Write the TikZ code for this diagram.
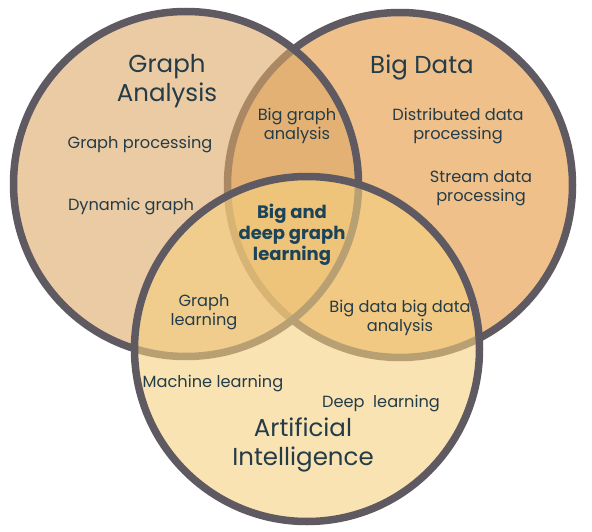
\documentclass[tikz,border=0pt]{standalone}
\usepackage{fontspec}
\setmainfont{Poppins}
\usepackage{xcolor}
\usepackage{tikz}
\usetikzlibrary{positioning}

\definecolor{gacol}{RGB}{222,168,102}
\definecolor{bdcol}{RGB}{228,150,60}
\definecolor{aicol}{RGB}{245,208,127}
\definecolor{rimcol}{RGB}{95,90,98}
\definecolor{txtcol}{RGB}{36,60,72}
\definecolor{boldcol}{RGB}{27,68,89}

\begin{document}
\begin{tikzpicture}[x=1pt, y=-1pt,
  venn/.style={circle, draw=rimcol, line width=7.5pt, fill opacity=0.6,
    inner sep=0pt, minimum size=345pt},
  ttl/.style={text=txtcol, align=center, font=\fontsize{24.5}{28.5}\selectfont},
  lbl/.style={text=txtcol, align=center, font=\fontsize{16.2}{18.5}\selectfont}]
\useasboundingbox (0,0) rectangle (592,532);
  % The three sets, bottom to top
  \node[venn, fill=bdcol] (bd) at (400,185) {};
  \node[venn, fill=gacol] (ga) at (186,184) {};
  \node[venn, fill=aicol] (ai) at (307,349) {};
  % Set titles
  \node[ttl] (gatitle) at (167,81) {Graph\\Analysis};
  \node[ttl] (bdtitle) at (422,67) {Big Data};
  \node[ttl] (aititle) at (303,445) {Artificial\\Intelligence};
  % Graph analysis topics
  \node[lbl] (gproc) at (140,145) {Graph processing};
  \node[lbl] (dyng) at (131,207) {Dynamic graph};
  % Big data topics
  \node[lbl] (distp) at (458,126) {Distributed data\\processing};
  \node[lbl] (strp) at (481,188) {Stream data\\processing};
  % Artificial intelligence topics
  \node[lbl] (mlearn) at (213,384) {Machine learning};
  \node[lbl] (dlearn) at (381,404) {Deep\ \ learning};
  % Pairwise overlaps
  \node[lbl] (bga) at (297,126) {Big graph\\analysis};
  \node[lbl] (glearn) at (204,312) {Graph\\learning};
  \node[lbl] (bdbd) at (400,318) {Big data big data\\analysis};
  % Centre of all three
  \node[text=boldcol, align=center, font=\bfseries\fontsize{18}{21}\selectfont]
    (core) at (292,235) {Big and\\deep graph\\learning};
\end{tikzpicture}
\end{document}
